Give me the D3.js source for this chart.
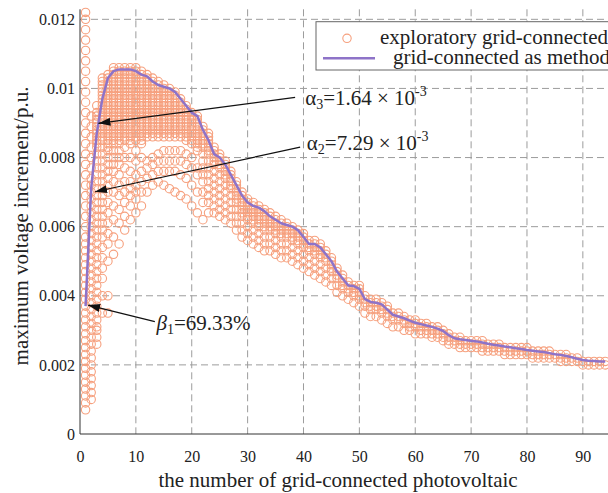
<!DOCTYPE html>
<html>
<head>
<meta charset="utf-8">
<title>maximum voltage increment</title>
<script src="https://cdnjs.cloudflare.com/ajax/libs/d3/7.8.5/d3.min.js"></script>
<style>
body { margin: 0; background: #fff; }
svg text { font-family: "Liberation Serif", "Times New Roman", serif !important; fill: #222; }
</style>
</head>
<body>
<div id="chart"></div>
<script>
// tick values / labels
var xTicks = [0, 10, 20, 30, 40, 50, 60, 70, 80, 90];
var yTicks = [0, 0.002, 0.004, 0.006, 0.008, 0.01, 0.012];
var yTickLabels = ['0', '0.002', '0.004', '0.006', '0.008', '0.01', '0.012'];

// "grid-connected as method" line, value for 1..94 PV (unit 1e-4 p.u.)
var methodY = [37, 71, 87, 97, 103, 105, 105.5, 105.5, 105.5, 105, 104, 103.5, 102, 101, 100.5, 100, 99, 97, 95, 93,
	92, 88, 85, 81, 80, 78, 75, 72, 69, 67, 66, 65.5, 64.5, 63, 62, 61, 60.5, 60, 59, 57,
	55, 55, 54, 52, 50, 47, 45, 43, 42.8, 42, 39, 38.2, 38, 37.5, 36, 34.5, 34, 33.5, 32.8, 32.2,
	31.8, 31.4, 31, 30.5, 29.8, 28.6, 27.7, 27.4, 27.2, 27, 26.8, 26.5, 26.1, 25.8, 25.6, 25.3, 25.1, 24.8, 24.6, 24.3,
	24.1, 23.9, 23.7, 23.4, 23.1, 22.9, 22.6, 22.2, 21.8, 21.4, 21.2, 21.1, 21, 21];

// "exploratory grid-connected" points, one list per PV count 1..94 (unit 1e-4 p.u.)
var exploreY = [
	[7,9,11,13,15,17,19,21,23,25,27,29,31,33,35,37,39,41,43,45,47,49,51,53,55,57,60,63,66,69,72,75,78,81,84,87,90,93,96,99,102,105,108,111,114,117,120,122],
	[10,12,14,16,18,20,22,24,26,28,30,32,34,36,38,40,42,44,46,48,50,52,54,56,58,60,62,64,66,68,70,72,74,77,80,83,86,89,92],
	[26,28,30,31,33,35,37,39,41,43,45,47,49,51,53,55,57,59,61,63,65,67,69,71,73,75,77,79,81,83,84,85,86,87,88,89,90,91,92,93,95],
	[35,40,45,48,51,54,57,59,61,63,65,67,69,71,73,75,77,79,81,83,85,86,87,88,89,90,91,92,93,94,95,96,97,98,99,100,101,102,103],
	[35,40,50,55,58,61,64,67,70,72,74,76,78,80,82,83,84,85,86,87,88,89,90,91,92,93,94,95,96,97,98,99,100,101,102,103,104],
	[52,57,62,66,70,73,76,78,80,82,84,85,86,87,88,89,90,91,92,93,94,95,96,97,98,99,100,101,102,103,104,105,106],
	[55,61,65,69,72,75,78,80,82,84,85,86,87,88,89,90,91,92,93,94,95,96,97,98,99,100,101,102,103,104,105,106],
	[59,63,67,70,73,77,80,83,85,86,87,88,89,90,91,92,93,94,95,96,97,98,99,100,101,102,103,104,105,106],
	[62,66,69,71,73,76,80,84,85,86,87,88,89,90,91,92,93,94,95,96,97,98,99,100,101,102,103,104,105,106],
	[64,68,70,72,75,79,82,85,86,87,88,89,90,91,92,93,94,95,96,97,98,99,100,101,102,103,104,105,106],
	[66,70,73,76,80,84,85,86,87,88,89,90,91,92,93,94,95,96,97,98,99,100,101,102,103,104,105],
	[70,74,77,79,86,87,88,89,90,91,92,93,94,95,96,97,98,99,100,101,102,103,104],
	[72,75,78,80,86,87,88,89,90,91,92,93,94,95,96,97,98,99,100,101,102,103],
	[73,76,79,81,86,87,88,89,90,91,92,93,94,95,96,97,98,99,100,101,102],
	[72,76,79,82,86,87,88,89,90,91,92,93,94,95,96,97,98,99,100,101],
	[71,76,79,82,86,87,88,89,90,91,92,93,94,95,96,97,98,99,100],
	[70,76,79,82,86,87,88,89,90,91,92,93,94,95,96,97,98,99],
	[69,75,79,82,86,87,88,89,90,91,92,93,94,95,96,97],
	[68,74,78,81,85,86,87,88,89,90,91,92,93,94,95],
	[66,72,77,80,84,85,86,87,88,89,90,91,92,93],
	[64,70,75,77,82,83,84,85,86,87,88,89,90,91,92],
	[62,67,70,73,75,77,79,81,83,84,85,86,87,88,89],
	[64,67,69,71,73,75,77,79,81,82,83,84,85,86,87],
	[64,66,68,70,72,74,76,78,79,80,81,82,83],
	[63,65,67,69,71,73,75,77,78,79,80,81],
	[62,64,66,68,70,72,74,75,76,77,78,79],
	[61,63,65,67,69,71,72,73,74,75,76],
	[59,61,63,65,67,68,69,70,71,72,73],
	[57,59,61,63,64,65,66,67,68,69,70],
	[56,58,60,62,63,64,65,66,67,68],
	[55,57,59,61,62,63,64,65,66,67],
	[54,56,58,60,61,62,63,64,65,66],
	[53,55,57,59,60,61,62,63,64,65],
	[53,55,57,59,60,61,62,63,64],
	[52,54,56,58,59,60,61,62,63],
	[51,53,55,57,58,59,60,61,62],
	[51,53,55,57,58,59,60,61],
	[50,52,54,56,57,58,59,60],
	[49,51,53,55,56,57,58,59],
	[48,50,52,54,55,56,57,58],
	[47,49,51,53,54,55,56],
	[46,48,50,52,53,54,55,56],
	[45,47,49,51,52,53,54,55],
	[44,46,48,50,51,52,53],
	[43,45,47,48,49,50,51],
	[41,43,45,46,47,48],
	[40,42,43,44,45,46],
	[39,41,42,43,44],
	[38,40,41,42,43],
	[37,39,40,41,42,43],
	[35,37,38,39,40],
	[34,36,37,38,39],
	[34,36,37,38,39],
	[33,35,36,37,38],
	[32,34,35,36,37],
	[31,33,34,35],
	[31,33,34,35],
	[30,32,33,34],
	[30,31,32,33],
	[29,31,32,33],
	[29,30,31,32],
	[29,30,31,32],
	[28,29,30,31],
	[28,29,30,31],
	[27,28,29,30],
	[26,27,28,29],
	[26,27,28],
	[25,26,27,28],
	[25,26,27],
	[25,26,27],
	[25,26,27],
	[24,25,26,27],
	[24,25,26],
	[24,25,26],
	[24,25,26],
	[23,24,25],
	[23,24,25],
	[23,24,25],
	[23,24,25],
	[23,24,25],
	[22,23,24],
	[22,23,24],
	[22,23,24],
	[22,23,24],
	[22,23],
	[21,22,23],
	[21,22,23],
	[21,22],
	[21,22],
	[20,21],
	[20,21],
	[20,21],
	[20,21],
	[20,21]
];

var legendLabels = ['exploratory grid-connected', 'grid-connected as method'];

(function(){
	var W = 608, H = 493;
	var padLeft = 80, padTop = 9.3, padRight = 608, padBottom = 434;
	var scatterColor = '#f6a07e';
	var lineColor = '#8e73c8';
	var serif = '"Liberation Serif", "Times New Roman", serif';

	var x = d3.scaleLinear().domain([0, 94.5]).range([padLeft, padRight]);
	var y = d3.scaleLinear().domain([0, 0.01229]).range([padBottom, padTop]);

	var svg = d3.select('#chart').append('svg')
		.attr('width', W)
		.attr('height', H)
		.style('font-family', serif);

	// grid
	svg.append('g').selectAll('line')
		.data(xTicks.filter(function(d){ return d > 0; }))
		.enter().append('line')
		.attr('x1', function(d){ return x(d); })
		.attr('x2', function(d){ return x(d); })
		.attr('y1', padTop)
		.attr('y2', padBottom)
		.attr('stroke', '#9c9c9c')
		.attr('stroke-dasharray', '7,4');

	svg.append('g').selectAll('line')
		.data(yTicks.filter(function(d){ return d > 0; }))
		.enter().append('line')
		.attr('x1', padLeft)
		.attr('x2', padRight)
		.attr('y1', function(d){ return y(d); })
		.attr('y2', function(d){ return y(d); })
		.attr('stroke', '#9c9c9c')
		.attr('stroke-dasharray', '7,4');

	// scatter
	var pts = [];
	exploreY.forEach(function(col, i){
		col.forEach(function(v){ pts.push([i + 1, v * 1e-4]); });
	});
	svg.append('g').selectAll('circle')
		.data(pts)
		.enter().append('circle')
		.attr('cx', function(d){ return x(d[0]); })
		.attr('cy', function(d){ return y(d[1]); })
		.attr('r', 4.2)
		.attr('fill', 'none')
		.attr('stroke', scatterColor)
		.attr('stroke-width', 1.1);

	// method line
	var line = d3.line()
		.x(function(d, i){ return x(i + 1); })
		.y(function(d){ return y(d * 1e-4); });
	svg.append('path')
		.datum(methodY)
		.attr('d', line)
		.attr('fill', 'none')
		.attr('stroke', lineColor)
		.attr('stroke-width', 2.5)
		.attr('stroke-linejoin', 'round');

	// axes
	var xAxis = d3.axisBottom(x).tickValues(xTicks).tickSize(0).tickPadding(10);
	var gx = svg.append('g').attr('transform', 'translate(0,' + padBottom + ')').call(xAxis)
		.attr('font-family', serif).attr('font-size', 16);
	gx.select('.domain').attr('stroke', '#333').attr('d', 'M' + padLeft + ',0H' + padRight);
	gx.selectAll('text').attr('dy', '1.1em');

	var yAxis = d3.axisLeft(y).tickValues(yTicks).tickSize(0).tickPadding(5)
		.tickFormat(function(d, i){ return yTickLabels[i]; });
	var gy = svg.append('g').attr('transform', 'translate(' + padLeft + ',0)').call(yAxis)
		.attr('font-family', serif).attr('font-size', 16);
	gy.select('.domain').attr('stroke', '#333').attr('d', 'M0,' + padTop + 'V' + padBottom);
	svg.selectAll('.tick text').attr('fill', '#222');

	// axis labels
	svg.append('text')
		.attr('x', 338)
		.attr('y', 487)
		.attr('text-anchor', 'middle')
		.attr('font-size', 21)
		.text('the number of grid-connected photovoltaic');

	svg.append('text')
		.attr('transform', 'translate(28,226) rotate(-90)')
		.attr('text-anchor', 'middle')
		.attr('font-size', 21)
		.text('maximum voltage increment/p.u.');

	// legend
	var lg = svg.append('g');
	lg.append('rect')
		.attr('x', 316).attr('y', 21.7)
		.attr('width', 320).attr('height', 48.3)
		.attr('fill', '#fff')
		.attr('stroke', '#666');
	lg.append('circle')
		.attr('cx', 347).attr('cy', 38.3).attr('r', 4.2)
		.attr('fill', 'none').attr('stroke', scatterColor).attr('stroke-width', 1.1);
	lg.append('line')
		.attr('x1', 323).attr('x2', 375).attr('y1', 58.3).attr('y2', 58.3)
		.attr('stroke', lineColor).attr('stroke-width', 2.5);
	lg.append('text').attr('x', 380).attr('y', 44).attr('font-size', 21).text(legendLabels[0]);
	lg.append('text').attr('x', 393).attr('y', 64).attr('font-size', 21).text(legendLabels[1]);

	// annotations (data coordinates)
	var notes = [
		{ tip: [3.3, 0.00899], tail: [38.5, 0.00974], at: [40.3, 0.00952], greek: '\u03b1', sub: '3', rest: '=1.64 \u00d7 10', sup: '-3', italic: false },
		{ tip: [2.7, 0.00701], tail: [39.4, 0.0083], at: [40.6, 0.00822], greek: '\u03b1', sub: '2', rest: '=7.29 \u00d7 10', sup: '-3', italic: false },
		{ tip: [1.45, 0.00373], tail: [13.4, 0.00325], at: [13.7, 0.00301], greek: '\u03b2', sub: '1', rest: '=69.33%', sup: '', italic: true }
	];

	svg.append('defs').append('marker')
		.attr('id', 'head')
		.attr('viewBox', '0 0 12 8')
		.attr('refX', 12).attr('refY', 4)
		.attr('markerWidth', 12).attr('markerHeight', 8)
		.attr('markerUnits', 'userSpaceOnUse')
		.attr('orient', 'auto')
		.append('path')
		.attr('d', 'M0,0L12,4L0,8z')
		.attr('fill', '#111');

	notes.forEach(function(n){
		svg.append('line')
			.attr('x1', x(n.tail[0])).attr('y1', y(n.tail[1]))
			.attr('x2', x(n.tip[0])).attr('y2', y(n.tip[1]))
			.attr('stroke', '#111').attr('stroke-width', 1.2)
			.attr('marker-end', 'url(#head)');
		var t = svg.append('text')
			.attr('x', x(n.at[0])).attr('y', y(n.at[1]))
			.attr('font-size', 21);
		t.append('tspan').attr('font-style', n.italic ? 'italic' : null).text(n.greek);
		t.append('tspan').attr('font-size', 14).attr('dy', 4).text(n.sub);
		t.append('tspan').attr('dy', -4).text(n.rest);
		if (n.sup)
			t.append('tspan').attr('font-size', 14).attr('dy', -9).text(n.sup);
	});
})();
</script>
</body>
</html>
